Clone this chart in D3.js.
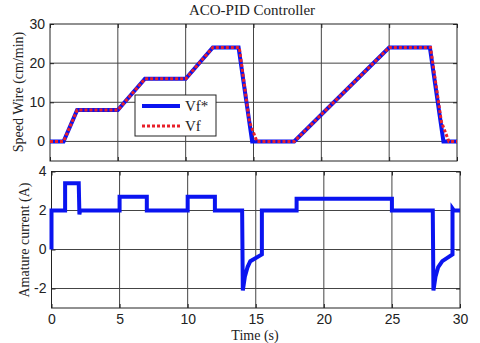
<!DOCTYPE html>
<html>
<head>
<meta charset="utf-8">
<script src="https://d3js.org/d3.v7.min.js"></script>
<style>
  body { margin: 0; background: #fff; }
  svg { display: block; }
  .tick text { font-family: "Liberation Sans", Arial, sans-serif; font-size: 14px; fill: #222; }
</style>
</head>
<body>
<div id="chart"></div>
<script>
// speed reference Vf* and measured Vf (cm/min)
const timeRef = [0, 1, 2, 5, 7, 10, 12, 13.9, 14.9, 18, 25, 28, 29, 30];
const vfRef   = [0, 0, 8, 8, 16, 16, 24, 24, 0, 0, 24, 24, 0, 0];
const timeVf  = [0, 1, 2, 5, 7, 10, 12, 13.95, 14.7, 15.25, 18, 25, 28.05, 28.85, 29.4, 30];
const vf      = [0, 0, 8, 8, 16, 16, 24, 24, 5, 0, 0, 24, 24, 5, 0, 0];

// armature current (A)
const timeIa = [0, 0, 1, 1, 2, 2.05, 2.1, 5, 5, 7, 7, 10, 10, 12, 12, 14, 14.05, 14.2, 14.4, 14.6, 15.45, 15.45,
                18, 18, 25, 25, 28, 28.05, 28.2, 28.4, 28.7, 29.45, 29.45, 29.55, 30];
const ia     = [0, 2, 2, 3.4, 3.4, 1.8, 2, 2, 2.7, 2.7, 2, 2, 2.7, 2.7, 2, 2, -2.1, -1.4, -0.9, -0.6, -0.25, 2,
                2, 2.6, 2.6, 2, 2, -2.1, -1.4, -0.9, -0.6, -0.25, 2.1, 2, 2];

const xTicks = [0, 5, 10, 15, 20, 25, 30];
const speedTicks = [0, 10, 20, 30];
const currentTicks = [-2, 0, 2, 4];

const svg = d3.select("#chart").append("svg")
    .attr("width", 480)
    .attr("height", 343);

// panel frames
const panelTop = {left: 50, right: 457, top: 24, bottom: 161};
const panelBot = {left: 51.5, right: 460, top: 171.5, bottom: 308};

const xTop = d3.scaleLinear().domain([0, 30]).range([panelTop.left, panelTop.right]);
const yTop = d3.scaleLinear().domain([-5, 30]).range([panelTop.bottom, panelTop.top]);
const xBot = d3.scaleLinear().domain([0, 30]).range([panelBot.left, panelBot.right]);
const yBot = d3.scaleLinear().domain([-3, 4]).range([panelBot.bottom, panelBot.top]);

function drawPanel(p, x, y, yTicks, showXLabels) {
    const g = svg.append("g");
    // grid
    g.selectAll(".vg").data(xTicks.slice(1, -1)).enter().append("line")
        .attr("x1", d => x(d)).attr("x2", d => x(d))
        .attr("y1", p.top).attr("y2", p.bottom)
        .attr("stroke", "#444").attr("stroke-width", 1);
    g.selectAll(".hg").data(yTicks.filter(d => d > y.domain()[0] && d < y.domain()[1])).enter().append("line")
        .attr("x1", p.left).attr("x2", p.right)
        .attr("y1", d => y(d)).attr("y2", d => y(d))
        .attr("stroke", "#444").attr("stroke-width", 1);

    // axes with inward ticks
    g.append("g").attr("transform", `translate(0,${p.bottom})`)
        .call(d3.axisBottom(x).tickValues(xTicks).tickSizeInner(-4).tickSizeOuter(0).tickPadding(6)
            .tickFormat(showXLabels ? d => String(d) : ""))
        .call(a => a.select(".domain").remove());
    g.append("g").attr("transform", `translate(0,${p.top})`)
        .call(d3.axisTop(x).tickValues(xTicks).tickSizeInner(-4).tickSizeOuter(0).tickFormat(""))
        .call(a => a.select(".domain").remove());
    g.append("g").attr("transform", `translate(${p.left},0)`)
        .call(d3.axisLeft(y).tickValues(yTicks).tickSizeInner(-4).tickSizeOuter(0).tickPadding(5)
            .tickFormat(d => String(d)))
        .call(a => a.select(".domain").remove());
    g.append("g").attr("transform", `translate(${p.right},0)`)
        .call(d3.axisRight(y).tickValues(yTicks).tickSizeInner(-4).tickSizeOuter(0).tickFormat(""))
        .call(a => a.select(".domain").remove());
    g.selectAll(".tick line").attr("stroke", "#222");

    g.append("rect")
        .attr("x", p.left).attr("y", p.top)
        .attr("width", p.right - p.left).attr("height", p.bottom - p.top)
        .attr("fill", "none").attr("stroke", "#222").attr("stroke-width", 1);
    return g;
}

const gTop = drawPanel(panelTop, xTop, yTop, speedTicks, false);
const gBot = drawPanel(panelBot, xBot, yBot, currentTicks, true);

// speed lines
const lineTop = d3.line().x(d => xTop(d[0])).y(d => yTop(d[1]));
gTop.append("path")
    .datum(d3.zip(timeRef, vfRef))
    .attr("d", lineTop)
    .attr("fill", "none").attr("stroke", "#0a14f0").attr("stroke-width", 4)
    .attr("stroke-linejoin", "miter");
gTop.append("path")
    .datum(d3.zip(timeVf, vf))
    .attr("d", lineTop)
    .attr("fill", "none").attr("stroke", "#e8202a").attr("stroke-width", 3)
    .attr("stroke-dasharray", "3,2");

// current line
const lineBot = d3.line().x(d => xBot(d[0])).y(d => yBot(d[1]));
gBot.append("path")
    .datum(d3.zip(timeIa, ia))
    .attr("d", lineBot)
    .attr("fill", "none").attr("stroke", "#0a14f0").attr("stroke-width", 4)
    .attr("stroke-linejoin", "miter");

// legend
const leg = svg.append("g").attr("transform", "translate(135,95)");
leg.append("rect").attr("width", 81).attr("height", 41)
    .attr("fill", "#fff").attr("stroke", "#222").attr("stroke-width", 1);
leg.append("line").attr("x1", 7).attr("x2", 45).attr("y1", 11).attr("y2", 11)
    .attr("stroke", "#0a14f0").attr("stroke-width", 4);
leg.append("line").attr("x1", 7).attr("x2", 45).attr("y1", 31).attr("y2", 31)
    .attr("stroke", "#e8202a").attr("stroke-width", 3).attr("stroke-dasharray", "3,2");
leg.selectAll("text").data(["Vf*", "Vf"]).enter().append("text")
    .attr("x", 50).attr("y", (d, i) => 16 + i * 20)
    .attr("font-family", "Liberation Serif, serif").attr("font-size", 15)
    .attr("fill", "#222")
    .text(d => d);

// titles
svg.append("text")
    .attr("x", 252).attr("y", 15)
    .attr("text-anchor", "middle")
    .attr("font-family", "Liberation Serif, serif").attr("font-size", 15)
    .attr("fill", "#222")
    .text("ACO-PID Controller");
svg.append("text")
    .attr("x", 255).attr("y", 340)
    .attr("text-anchor", "middle")
    .attr("font-family", "Liberation Serif, serif").attr("font-size", 14)
    .attr("fill", "#222")
    .text("Time (s)");
svg.append("text")
    .attr("transform", "translate(23,92) rotate(-90)")
    .attr("text-anchor", "middle")
    .attr("font-family", "Liberation Serif, serif").attr("font-size", 14)
    .attr("fill", "#222")
    .text("Speed Wire (cm/min)");
svg.append("text")
    .attr("transform", "translate(29,240) rotate(-90)")
    .attr("text-anchor", "middle")
    .attr("font-family", "Liberation Serif, serif").attr("font-size", 14)
    .attr("fill", "#222")
    .text("Amature current (A)");
</script>
</body>
</html>
